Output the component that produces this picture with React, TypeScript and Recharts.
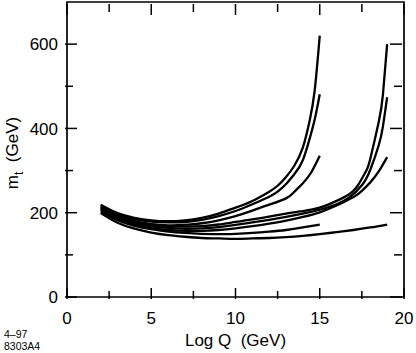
import React from "react";
import { LineChart, Line, XAxis, YAxis, ReferenceArea } from "recharts";

// Log Q sample points and m_t values for each curve
const xsA = [2, 3, 4, 5, 6, 7, 8, 9, 10, 11, 12, 12.5, 13, 13.5, 14, 14.4, 14.7, 15];
const mtA = [219, 199, 188, 182, 180, 182, 188, 198, 212, 228, 250, 264, 285, 312, 355, 418, 490, 620];

const xsB = [2, 3, 4, 5, 6, 7, 8, 9, 10, 11, 12, 12.5, 13, 13.5, 14, 14.5, 14.75, 15];
const mtB = [217, 197, 185, 179, 177, 178, 183, 192, 204, 220, 238, 250, 268, 292, 325, 390, 430, 481];

const xsC = [2, 3, 4, 5, 6, 7, 8, 9, 10, 11, 12, 13, 13.5, 14, 14.5, 15];
const mtC = [214, 193, 180, 173, 170, 171, 175, 182, 192, 205, 219, 234, 250, 270, 296, 335];

const xsD = [2, 3, 4, 5, 6, 7, 8, 9, 10, 11, 12, 13, 14, 15];
const mtD = [203, 182, 169, 161, 155, 152, 150, 149, 150, 152, 155, 159, 165, 172];

const xsE = [2, 3, 4, 5, 6, 7, 8, 9, 10, 11, 12, 13, 14, 15, 16, 16.75, 17.25, 17.75, 18, 18.5, 18.75, 19];
const mtE = [212, 192, 179, 172, 168, 167, 168, 172, 178, 184, 191, 198, 204, 212, 228, 244, 264, 299, 328, 415, 480, 600];

const xsF = [2, 3, 4, 5, 6, 7, 8, 9, 10, 11, 12, 13, 14, 15, 16, 16.75, 17.5, 18, 18.5, 18.75, 19];
const mtF = [210, 189, 176, 168, 164, 162, 163, 166, 171, 177, 183, 190, 198, 207, 220, 236, 265, 302, 360, 405, 474];

const xsG = [2, 3, 4, 5, 6, 7, 8, 9, 10, 11, 12, 13, 14, 15, 16, 17, 17.5, 18, 18.5, 19];
const mtG = [207, 186, 172, 164, 159, 157, 157, 159, 163, 168, 174, 181, 190, 201, 217, 237, 252, 272, 298, 332];

const xsH = [2, 3, 4, 5, 6, 7, 8, 9, 10, 11, 12, 13, 14, 15, 16, 17, 18, 19];
const mtH = [199, 176, 162, 153, 147, 143, 140, 139, 138, 139, 140, 142, 145, 149, 154, 159, 165, 172];

const xTicks = [0, 2.5, 5, 7.5, 10, 12.5, 15, 17.5, 20];
const xLabels = [0, 5, 10, 15, 20];
const yTicks = [0, 100, 200, 300, 400, 500, 600];
const yLabels = [0, 200, 400, 600];

const curves = [
  [xsA, mtA],
  [xsB, mtB],
  [xsC, mtC],
  [xsD, mtD],
  [xsE, mtE],
  [xsF, mtF],
  [xsG, mtG],
  [xsH, mtH],
];

const FONT = "'Liberation Sans', Arial, sans-serif";

const W = 416;
const H = 353;
const M = { top: 2, right: 12, bottom: 0, left: 0 };
const X_AXIS_H = 56;
const Y_AXIS_W = 67;
const PLOT_W = W - M.left - M.right - Y_AXIS_W;
const PLOT_H = H - M.top - M.bottom - X_AXIS_H;

// inward ticks on bottom and top, labels under the bottom ones
const BottomTick = (props: any) => {
  const { x, y, payload } = props;
  const major = xLabels.includes(payload.value);
  const len = major ? 11 : 8;
  return (
    <g>
      <line x1={x} x2={x} y1={y} y2={y - len} stroke="#000" strokeWidth={1.5} />
      <line x1={x} x2={x} y1={y - PLOT_H} y2={y - PLOT_H + len} stroke="#000" strokeWidth={1.5} />
      {major && (
        <text x={x} y={y + 25} textAnchor="middle" fontSize={17} fontFamily={FONT} fill="#000">
          {payload.value}
        </text>
      )}
    </g>
  );
};

// inward ticks on left and right, labels left of the left ones
const LeftTick = (props: any) => {
  const { x, y, payload } = props;
  const major = yLabels.includes(payload.value);
  const len = major ? 12 : 8;
  return (
    <g>
      <line x1={x} x2={x + len} y1={y} y2={y} stroke="#000" strokeWidth={1.5} />
      <line x1={x + PLOT_W} x2={x + PLOT_W - len} y1={y} y2={y} stroke="#000" strokeWidth={1.5} />
      {major && (
        <text x={x - 7} y={y} dy="0.36em" textAnchor="end" fontSize={17} fontFamily={FONT} fill="#000">
          {payload.value}
        </text>
      )}
    </g>
  );
};

export default function App() {
  return (
    <div style={{ position: "absolute", left: 0, top: 0, width: W, height: H, background: "#fff" }}>
      <LineChart width={W} height={H} margin={M}>
        <XAxis
          type="number"
          dataKey="x"
          domain={[0, 20]}
          ticks={xTicks}
          interval={0}
          height={X_AXIS_H}
          tickSize={0}
          tickLine={false}
          tick={BottomTick}
          axisLine={false}
        />
        <YAxis
          type="number"
          domain={[0, 700]}
          ticks={yTicks}
          interval={0}
          width={Y_AXIS_W}
          tickSize={0}
          tickLine={false}
          tick={LeftTick}
          axisLine={false}
        />
        <ReferenceArea x1={0} x2={20} y1={0} y2={700} fill="none" stroke="#000" strokeWidth={1.7} ifOverflow="visible" />
        {curves.map(([xs, ys], i) => (
          <Line
            key={i}
            data={xs.map((x, j) => ({ x, y: ys[j] }))}
            dataKey="y"
            type="natural"
            stroke="#000"
            strokeWidth={2.3}
            dot={false}
            isAnimationActive={false}
          />
        ))}
      </LineChart>
      <svg
        width={W}
        height={H}
        style={{ position: "absolute", left: 0, top: 0, pointerEvents: "none" }}
        fontFamily={FONT}
      >
        <text x={235.5} y={346} textAnchor="middle" fontSize={17} fill="#000">
          Log Q{"\u00a0\u00a0"}(GeV)
        </text>
        <text transform="translate(18,153) rotate(-90)" textAnchor="middle" fontSize={17} fill="#000">
          m<tspan fontSize={12} dy={5}>t</tspan>
          <tspan dy={-5}>{"\u00a0\u00a0"}(GeV)</tspan>
        </text>
        <text x={4} y={338} fontSize={10.5} fill="#000">
          4–97
        </text>
        <text x={4} y={349.5} fontSize={10.5} fill="#000">
          8303A4
        </text>
      </svg>
    </div>
  );
}
